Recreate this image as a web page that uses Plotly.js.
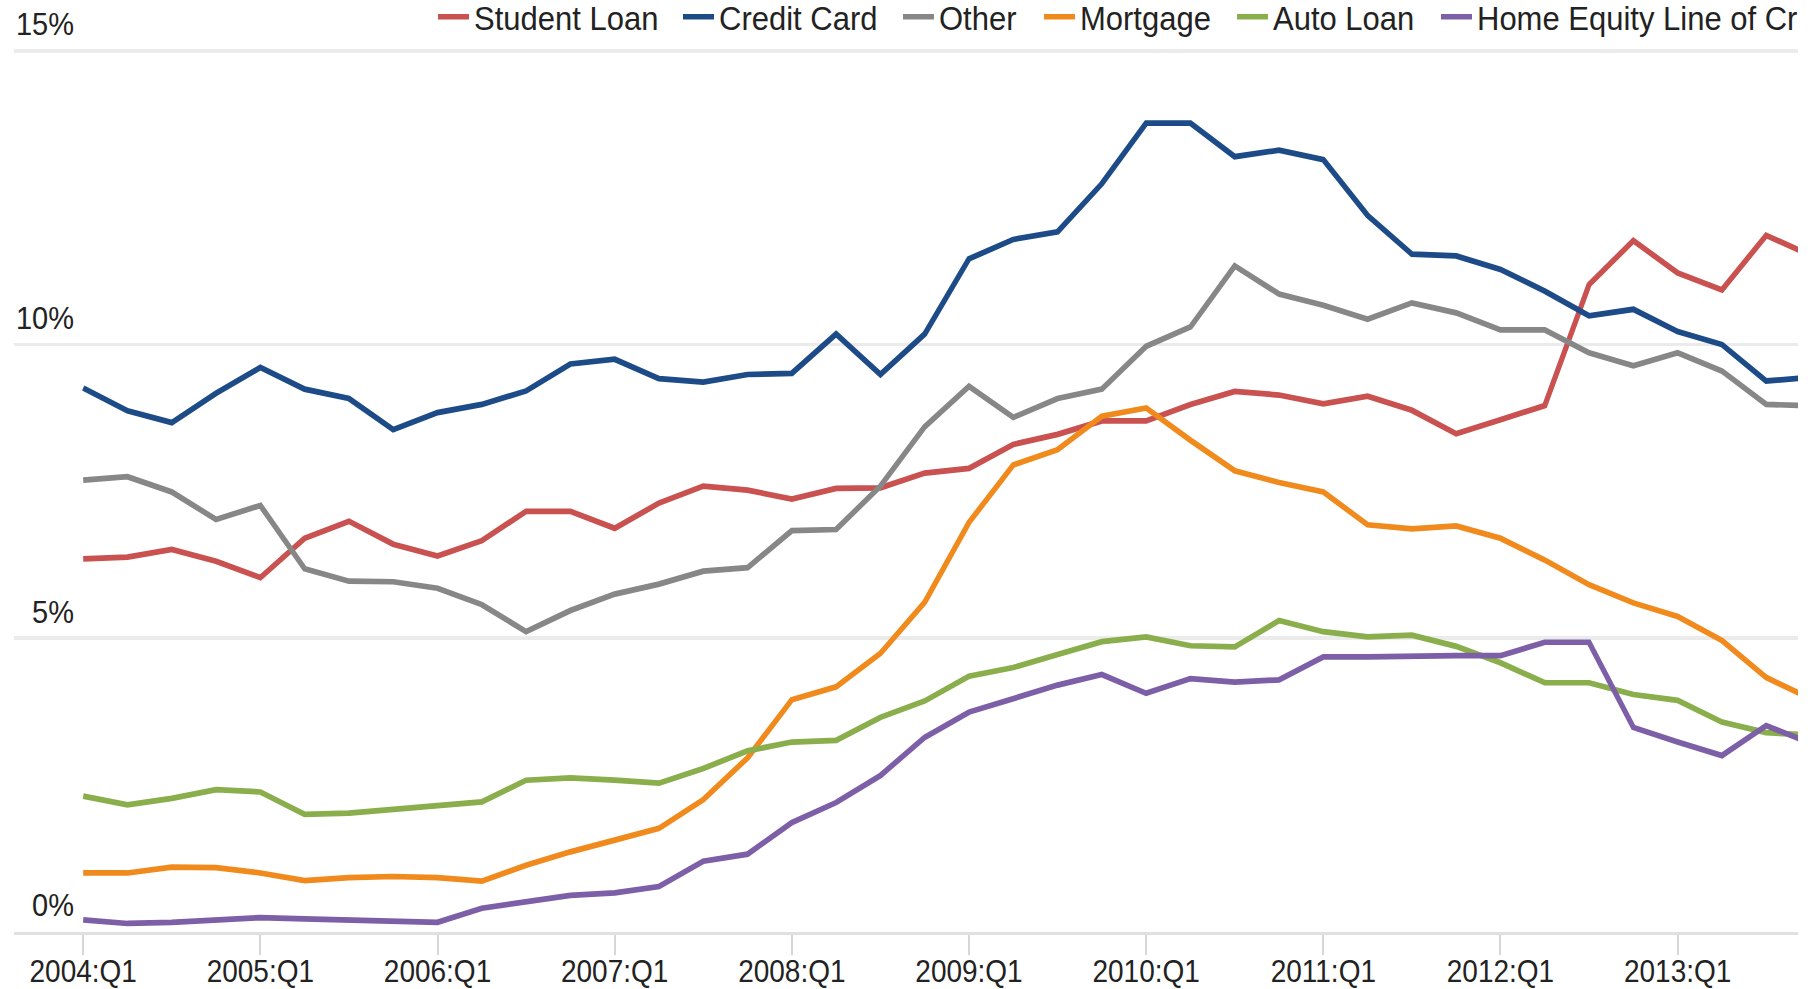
<!DOCTYPE html>
<html>
<head>
<meta charset="utf-8">
<script src="https://cdn.plot.ly/plotly-3.0.1.min.js"></script>
<style>
  html, body { margin: 0; padding: 0; background: #ffffff; overflow: hidden; }
  #clip { width: 1798px; height: 989px; overflow: hidden; position: relative; }
  #chart { width: 2100px; height: 899px; transform: scaleY(1.1); transform-origin: 0 0; }
</style>
</head>
<body>
<div id="clip"><div id="chart"></div></div>
<script>
const quarters = [
  '2004:Q1','2004:Q2','2004:Q3','2004:Q4',
  '2005:Q1','2005:Q2','2005:Q3','2005:Q4',
  '2006:Q1','2006:Q2','2006:Q3','2006:Q4',
  '2007:Q1','2007:Q2','2007:Q3','2007:Q4',
  '2008:Q1','2008:Q2','2008:Q3','2008:Q4',
  '2009:Q1','2009:Q2','2009:Q3','2009:Q4',
  '2010:Q1','2010:Q2','2010:Q3','2010:Q4',
  '2011:Q1','2011:Q2','2011:Q3','2011:Q4',
  '2012:Q1','2012:Q2','2012:Q3','2012:Q4',
  '2013:Q1','2013:Q2','2013:Q3','2013:Q4'
];
const tickLabels = ['2004:Q1','2005:Q1','2006:Q1','2007:Q1','2008:Q1','2009:Q1','2010:Q1','2011:Q1','2012:Q1','2013:Q1'];
const yTickVals = [0, 5, 10, 15];
const yTickText = ['0%', '5%', '10%', '15%'];

const studentLoan = [6.35,6.38,6.51,6.31,6.03,6.70,6.99,6.60,6.40,6.66,7.16,7.16,6.87,7.30,7.59,7.52,7.37,7.55,7.56,7.81,7.89,8.30,8.47,8.70,8.70,8.98,9.20,9.14,8.99,9.12,8.88,8.48,8.72,8.96,11.02,11.77,11.22,10.93,11.86,11.52];
const creditCard = [9.26,8.87,8.67,9.17,9.61,9.24,9.08,8.55,8.84,8.98,9.21,9.67,9.75,9.42,9.36,9.49,9.51,10.18,9.49,10.18,11.46,11.79,11.92,12.74,13.77,13.77,13.20,13.31,13.15,12.20,11.54,11.51,11.28,10.91,10.49,10.60,10.22,10.00,9.38,9.44];
const other = [7.69,7.75,7.49,7.02,7.26,6.18,5.97,5.96,5.85,5.57,5.11,5.47,5.75,5.92,6.14,6.20,6.83,6.85,7.59,8.60,9.29,8.76,9.08,9.24,9.97,10.30,11.34,10.86,10.67,10.43,10.71,10.54,10.25,10.25,9.86,9.64,9.86,9.55,8.98,8.96];
const mortgage = [1.00,1.00,1.10,1.09,1.00,0.87,0.92,0.94,0.92,0.86,1.13,1.36,1.56,1.76,2.25,2.96,3.95,4.17,4.74,5.61,6.97,7.95,8.21,8.78,8.92,8.37,7.85,7.65,7.49,6.93,6.86,6.91,6.70,6.33,5.91,5.60,5.37,4.96,4.33,3.97];
const autoLoan = [2.31,2.16,2.27,2.42,2.38,2.00,2.02,2.08,2.14,2.21,2.58,2.62,2.58,2.53,2.78,3.08,3.23,3.26,3.65,3.93,4.35,4.50,4.72,4.94,5.02,4.87,4.85,5.30,5.11,5.02,5.05,4.86,4.58,4.24,4.24,4.04,3.94,3.57,3.39,3.35];
const heloc = [0.20,0.14,0.16,0.20,0.24,0.22,0.20,0.16,0.16,0.40,0.52,0.62,0.66,0.77,1.20,1.32,1.86,2.20,2.66,3.31,3.74,3.98,4.20,4.38,4.06,4.31,4.25,4.29,4.68,4.68,4.70,4.70,4.70,4.93,4.93,3.48,3.23,3.00,3.51,3.21];

const seriesNames = ['Student Loan','Credit Card','Other','Mortgage','Auto Loan','Home Equity Line of Credit'];
const seriesValues = [studentLoan, creditCard, other, mortgage, autoLoan, heloc];
const seriesColors = ['#c9514f','#1d4b87','#878787','#f18a1c','#8aae4b','#7d5fa8'];

const FONT = 'Liberation Sans, Arial, sans-serif';

// geometry (pixels, before the vertical CSS scale)
const W = 2100, H = 899, L = 14, B = 52;
const pxPerQ = 44.29;
const firstX = 83.2;
const xLeft = (L - firstX) / pxPerQ;
const xRight = xLeft + (W - L) / pxPerQ;
const yTop = 15.868;
const legendSwatchPx = [436, 681, 901, 1042, 1235, 1439];
const legendIds = ['legend','legend2','legend3','legend4','legend5','legend6'];

const traces = seriesNames.map((name, i) => ({
  type: 'scatter',
  mode: 'lines',
  name: name,
  legend: legendIds[i],
  x: quarters,
  y: seriesValues[i],
  line: { color: seriesColors[i], width: 5.2 },
  hoverinfo: 'x+y+name'
}));

const layout = {
  width: W,
  height: H,
  margin: { l: L, r: 0, t: 0, b: B, pad: 0, autoexpand: false },
  paper_bgcolor: '#ffffff',
  plot_bgcolor: '#ffffff',
  font: { family: FONT, color: '#222222' },
  showlegend: true,
  xaxis: {
    type: 'category',
    range: [xLeft, xRight],
    tickmode: 'array',
    tickvals: tickLabels,
    ticktext: tickLabels,
    ticks: 'outside',
    ticklen: 18,
    tickwidth: 2,
    tickcolor: '#d6d6d6',
    ticklabelstandoff: -9,
    showgrid: false,
    showline: true,
    linecolor: '#e0e0e0',
    linewidth: 3,
    zeroline: false,
    tickfont: { family: FONT, size: 28, color: '#222222' }
  },
  yaxis: {
    range: [0, yTop],
    anchor: 'free',
    position: (74 - L) / (W - L),
    side: 'left',
    tickmode: 'array',
    tickvals: yTickVals,
    ticktext: yTickText,
    ticklabelposition: 'outside top',
    ticklabelshift: -4,
    ticks: '',
    showgrid: true,
    gridcolor: '#ebebeb',
    gridwidth: 3,
    zeroline: false,
    showline: false,
    tickfont: { family: FONT, size: 29, color: '#222222' }
  }
};

legendIds.forEach((id, i) => {
  layout[id] = {
    orientation: 'h',
    x: (legendSwatchPx[i] - 3 - L) / (W - L),
    xanchor: 'left',
    y: 0.9816,
    yanchor: 'middle',
    font: { family: FONT, size: 31, color: '#222222' },
    bgcolor: 'rgba(0,0,0,0)',
    itemwidth: 31
  };
});

Plotly.newPlot('chart', traces, layout, { displayModeBar: false, responsive: false });
</script>
</body>
</html>
